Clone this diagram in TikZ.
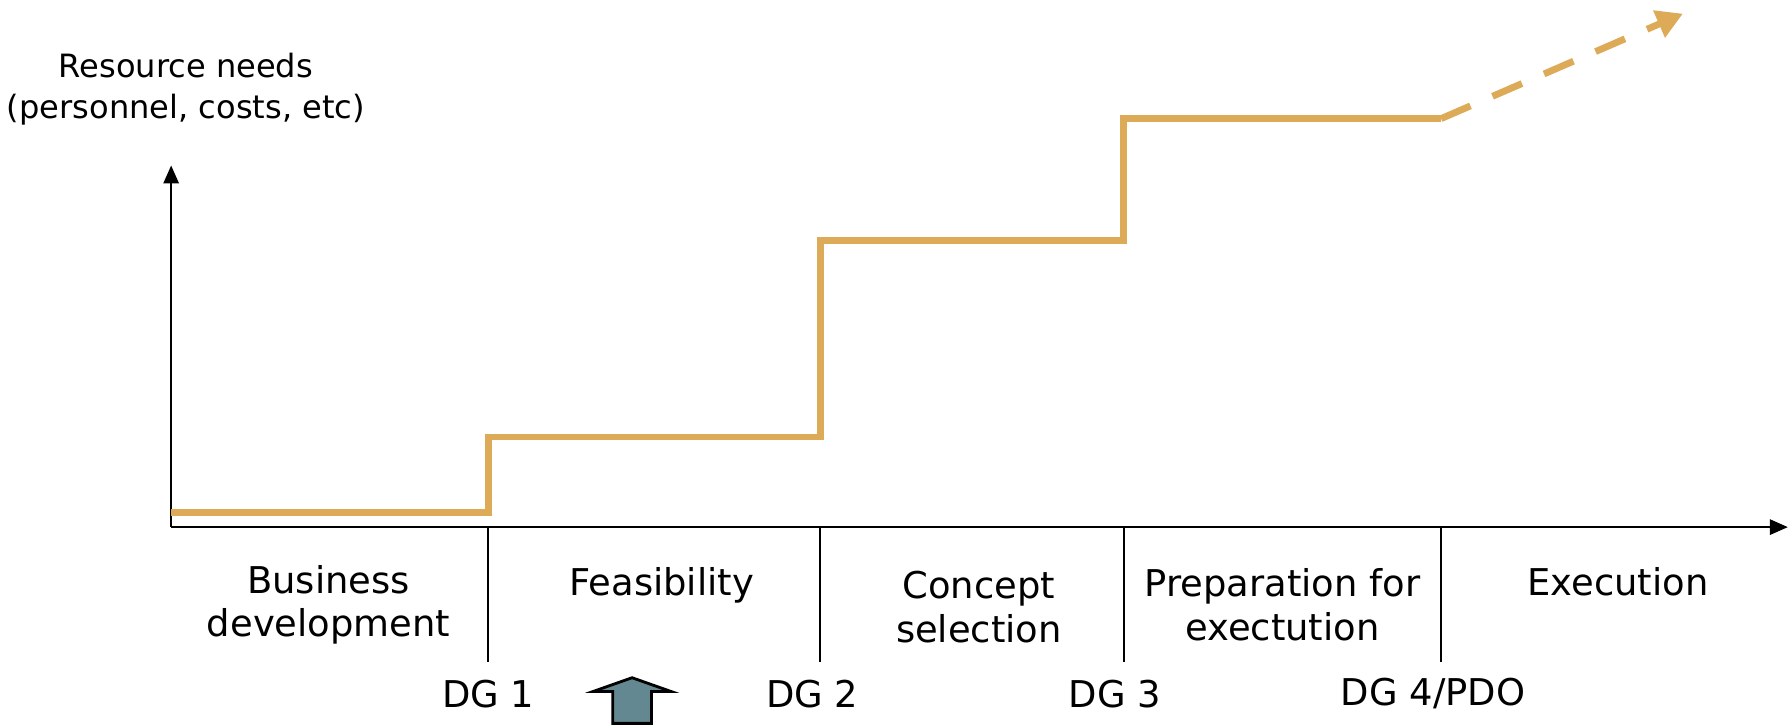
\documentclass[tikz,border=0pt]{standalone}
\usepackage{fontspec}
\setmainfont{DejaVu Sans}
\usetikzlibrary{arrows.meta}
\definecolor{stepcol}{RGB}{221,170,88}
\definecolor{gatecol}{RGB}{100,136,145}
\tikzset{
  lbl/.style={font=\fontsize{9.2}{10.8}\selectfont, align=center, inner sep=0pt},
  stair/.style={stepcol, line width=1.7pt},
  axis/.style={line width=0.6pt, -{Triangle[length=4.5pt,width=3.8pt]}},
  gate/.style={line width=0.55pt},
}
\begin{document}
\begin{tikzpicture}
\useasboundingbox (0,0) rectangle (15.68,6.35);
\coordinate (o) at (1.50,1.73);
\coordinate (ytop) at (1.50,4.90);
\coordinate (xend) at (15.67,1.73);
\draw [axis] (o) -- (ytop);
\draw [axis] (o) -- (xend);
\node (ylbl) [lbl, font=\fontsize{8}{10.2}\selectfont] at (1.63,5.57) {Resource needs\\(personnel, costs, etc)};

\coordinate (g1) at (4.28,1.73);
\coordinate (g2) at (7.19,1.73);
\coordinate (g3) at (9.85,1.73);
\coordinate (g4) at (12.63,1.73);
\coordinate (g1b) at (4.28,0.55);
\coordinate (g2b) at (7.19,0.55);
\coordinate (g3b) at (9.85,0.55);
\coordinate (g4b) at (12.63,0.55);
\draw [gate] (g1) -- (g1b);
\draw [gate] (g2) -- (g2b);
\draw [gate] (g3) -- (g3b);
\draw [gate] (g4) -- (g4b);

\coordinate (s0) at (1.50,1.86);
\coordinate (s1) at (4.28,1.86);
\coordinate (s2) at (4.28,2.52);
\coordinate (s3) at (7.19,2.52);
\coordinate (s4) at (7.19,4.24);
\coordinate (s5) at (9.85,4.24);
\coordinate (s6) at (9.85,5.31);
\coordinate (s7) at (12.63,5.31);
\coordinate (s8) at (14.75,6.23);
\draw [stair] (s0) -- (s1) -- (s2) -- (s3) -- (s4) -- (s5) -- (s6) -- (s7);
\draw [stair, dash pattern=on 8pt off 6pt, -{Triangle[length=6.5pt,width=7pt]}] (s7) -- (s8);

\node (bd) [lbl] at (2.88,1.05) {Business\\development};
\node (fs) [lbl] at (5.80,1.22) {Feasibility};
\node (cs) [lbl] at (8.58,1.03) {Concept\\selection};
\node (pe) [lbl] at (11.24,1.05) {Preparation for\\exectution};
\node (ex) [lbl] at (14.18,1.25) {Execution};

\node (dg1) [lbl] at (4.28,0.27) {DG 1};
\node (dg2) [lbl] at (7.12,0.27) {DG 2};
\node (dg3) [lbl] at (9.77,0.27) {DG 3};
\node (dg4) [lbl] at (12.56,0.27) {DG 4/PDO};

\draw [fill=gatecol, line width=0.7pt] (5.37,0.01) -- (5.37,0.29) -- (5.20,0.29)
  -- (5.54,0.41) -- (5.88,0.29) -- (5.71,0.29) -- (5.71,0.01) -- cycle;
\end{tikzpicture}
\end{document}
